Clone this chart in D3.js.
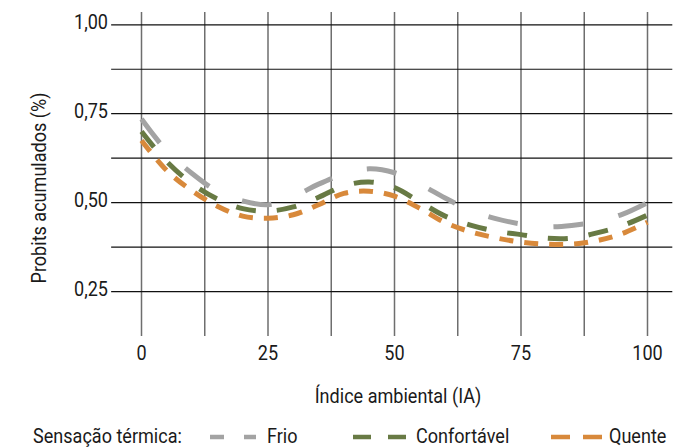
<!DOCTYPE html>
<html>
<head>
<meta charset="utf-8">
<script src="https://cdn.jsdelivr.net/npm/d3@7"></script>
<style>
  body { margin: 0; background: #ffffff; }
  svg { display: block; }
  text { font-family: "Roboto", "DejaVu Sans Condensed", sans-serif; fill: #1a1a1a; font-size: 21px; }
</style>
</head>
<body>
<div id="chart"></div>
<script>
// Valeurs
var indices = [0, 5, 10, 15, 20, 25, 30, 35, 40, 45, 50, 55, 60, 65, 70, 75, 80, 85, 90, 95, 100];
var frio = [0.735, 0.645, 0.582, 0.532, 0.505, 0.494, 0.517, 0.552, 0.580, 0.595, 0.584, 0.552, 0.513, 0.478, 0.455, 0.440, 0.432, 0.436, 0.447, 0.467, 0.500];
var confortavel = [0.700, 0.615, 0.553, 0.510, 0.483, 0.476, 0.488, 0.515, 0.547, 0.558, 0.542, 0.502, 0.462, 0.437, 0.420, 0.410, 0.400, 0.400, 0.415, 0.435, 0.465];
var quente = [0.675, 0.590, 0.533, 0.490, 0.462, 0.456, 0.466, 0.494, 0.526, 0.532, 0.518, 0.484, 0.444, 0.418, 0.401, 0.389, 0.383, 0.383, 0.393, 0.413, 0.445];
var seriesNames = ["Frio", "Confortável", "Quente"];
var xTicks = [0, 25, 50, 75, 100];
var yTicks = [0.25, 0.5, 0.75, 1.0];

var width = 691;
var height = 448;
var squeeze = 0.86; // police étroite simulée

var colors = { "Frio": "#a3a3a3", "Confortável": "#687a44", "Quente": "#d8893b" };
var dashes = { "Frio": "30,36", "Confortável": "20,21", "Quente": "14,11" };
var legendDashes = { "Frio": "14,20", "Confortável": "18,17", "Quente": "19,13" };

var svg = d3
  .select("#chart")
  .append("svg")
  .attr("width", width)
  .attr("height", height);

// texte compressé horizontalement
function addText(px, py, str, anchor, rot) {
  var g = svg.append("g")
    .attr("transform", "translate(" + px + "," + py + ")" + (rot ? " rotate(" + rot + ")" : "") + " scale(" + squeeze + ",1)");
  g.append("text")
    .attr("text-anchor", anchor || "start")
    .text(str);
  return g;
}

// Echelles
var x = d3.scaleLinear().domain([0, 100]).range([141.5, 647.5]);
var y = d3.scaleLinear().domain([0.125, 1.036]).range([336, 12]);

// Grille verticale (tous les 12,5)
var xGrid = d3.range(0, 100.1, 12.5);
svg.selectAll(".vgrid")
  .data(xGrid)
  .enter()
  .append("line")
  .attr("class", "vgrid")
  .attr("x1", function (d) { return x(d); })
  .attr("x2", function (d) { return x(d); })
  .attr("y1", y(1.036))
  .attr("y2", y(0.125))
  .style("stroke", "#6e6e6e")
  .style("stroke-width", 1.5);

// Grille horizontale (tous les 0,125)
var yGrid = d3.range(0.25, 1.01, 0.125);
svg.selectAll(".hgrid")
  .data(yGrid)
  .enter()
  .append("line")
  .attr("class", "hgrid")
  .attr("x1", x(-6))
  .attr("x2", x(104.9))
  .attr("y1", function (d) { return y(d); })
  .attr("y2", function (d) { return y(d); })
  .style("stroke", "#111111")
  .style("stroke-width", 1.2);

// Etiquettes de l'axe Y
var fmt = function (d) { return d3.format(".2f")(d).replace(".", ","); };
yTicks.forEach(function (d) {
  addText(108, y(d) + 4, fmt(d), "end");
});

// Etiquettes de l'axe X
xTicks.forEach(function (d) {
  addText(x(d), 360, String(d), "middle");
});

// Titres des axes
addText(46, 188, "Probits acumulados (%)", "middle", -90);
addText(398, 403, "Índice ambiental (IA)", "middle");

// Courbes
var data = [
  { name: "Frio", values: frio },
  { name: "Confortável", values: confortavel },
  { name: "Quente", values: quente }
];

var line = d3.line()
  .x(function (d, i) { return x(indices[i]); })
  .y(function (d) { return y(d); })
  .curve(d3.curveCatmullRom.alpha(0.5));

svg.selectAll(".serie")
  .data(data)
  .enter()
  .append("path")
  .attr("class", "serie")
  .attr("d", function (d) { return line(d.values); })
  .style("fill", "none")
  .style("stroke", function (d) { return colors[d.name]; })
  .style("stroke-width", 5)
  .style("stroke-dasharray", function (d) { return dashes[d.name]; });

// Legende
addText(33, 443, "Sensação térmica:", "start");

var legendPos = [
  { name: seriesNames[0], x1: 210, x2: 256, tx: 267 },
  { name: seriesNames[1], x1: 353, x2: 406, tx: 416 },
  { name: seriesNames[2], x1: 551, x2: 602, tx: 609 }
];

svg.selectAll(".legend")
  .data(legendPos)
  .enter()
  .append("line")
  .attr("class", "legend")
  .attr("x1", function (d) { return d.x1; })
  .attr("x2", function (d) { return d.x2; })
  .attr("y1", 437)
  .attr("y2", 437)
  .style("stroke", function (d) { return colors[d.name]; })
  .style("stroke-width", 4.5)
  .style("stroke-dasharray", function (d) { return legendDashes[d.name]; });

legendPos.forEach(function (d) {
  addText(d.tx, 443, d.name, "start");
});
</script>
</body>
</html>
